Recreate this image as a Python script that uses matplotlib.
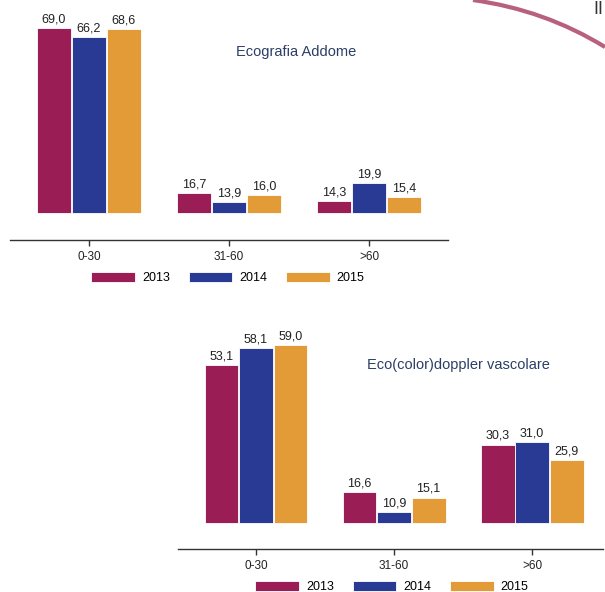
import numpy as np
import matplotlib.pyplot as plt
from matplotlib.patches import Patch, PathPatch
from matplotlib.path import Path

plt.rcParams['font.family'] = ['Liberation Sans', 'DejaVu Sans']

categories = ["0-30", "31-60", ">60"]
years = ["2013", "2014", "2015"]
colors = ["#9a1d56", "#283a93", "#e39b37"]

# Ecografia Addome
addome = {
    "2013": [69.0, 16.7, 14.3],
    "2014": [66.2, 13.9, 19.9],
    "2015": [68.6, 16.0, 15.4],
}
# Eco(color)doppler vascolare
doppler = {
    "2013": [53.1, 16.6, 30.3],
    "2014": [58.1, 10.9, 31.0],
    "2015": [59.0, 15.1, 25.9],
}

W, H = 605, 592
fig = plt.figure(figsize=(W / 100, H / 100), dpi=100)


def px_axes(x0, x1, y_top, y_bot):
    # axes placed with pixel coordinates (origin top-left)
    return fig.add_axes([x0 / W, 1 - y_bot / H, (x1 - x0) / W, (y_bot - y_top) / H])


def draw_chart(ax, data, base, xlim, ylim, title, title_xy):
    x = np.arange(len(categories))
    width = 0.246
    for i, yr in enumerate(years):
        vals = np.array(data[yr])
        pos = x + (i - 1) * 0.25
        ax.bar(pos, vals - base, bottom=base, width=width, color=colors[i],
               edgecolor="white", linewidth=0.6)
        for p, v in zip(pos, vals):
            ax.text(p, v + 0.8, f"{v:.1f}".replace(".", ","), ha="center",
                    va="bottom", fontsize=9, color="#222222")
    ax.set_xlim(*xlim)
    ax.set_ylim(*ylim)
    ax.set_xticks(x)
    ax.set_xticklabels(categories, fontsize=8.5, color="#222222")
    ax.tick_params(axis="x", length=4, width=1, color="#333333", pad=4)
    ax.set_yticks([])
    for s in ["top", "left", "right"]:
        ax.spines[s].set_visible(False)
    ax.spines["bottom"].set_color("#333333")
    ax.spines["bottom"].set_linewidth(1.0)
    ax.patch.set_alpha(0)
    fig.text(title_xy[0] / W, 1 - title_xy[1] / H, title, ha="center", va="center",
             fontsize=10.5, color="#2c3e66")


def legend_at(cx, cy):
    handles = [Patch(facecolor=c, edgecolor="white", linewidth=0.6) for c in colors]
    fig.legend(handles, years, loc="center", bbox_to_anchor=(cx / W, 1 - cy / H),
               ncol=3, frameon=False, fontsize=9, handlelength=3.5,
               handleheight=0.9, handletextpad=0.55, columnspacing=1.5)


# chart 1: zero at y=246 px, 3.163 px per unit
ax1 = px_axes(10, 448, 0, 240)
draw_chart(ax1, addome, 10.4, (-0.564, 2.564), (1.9, 77.8), "Ecografia Addome", (296, 52))
legend_at(228, 278)

# chart 2: zero at y=550 px, 3.49 px per unit
ax2 = px_axes(178, 603, 300, 549)
draw_chart(ax2, doppler, 7.7, (-0.565, 2.514), (0.3, 71.9),
           "Eco(color)doppler vascolare", (458, 365))
legend_at(392, 587)

# decorative arc and heading fragment at top right
verts = [(473 / W, 1.0), (545 / W, 1 - 10 / H), (605 / W, 1 - 47 / H)]
arc = PathPatch(Path(verts, [Path.MOVETO, Path.CURVE3, Path.CURVE3]),
                transform=fig.transFigure, facecolor="none", edgecolor="#b8607f",
                linewidth=3)
fig.add_artist(arc)
fig.text(603 / W, 1 - 1 / H, "II", fontsize=13, color="#333333", ha="right", va="top")

fig.savefig("out.png", dpi=100)
